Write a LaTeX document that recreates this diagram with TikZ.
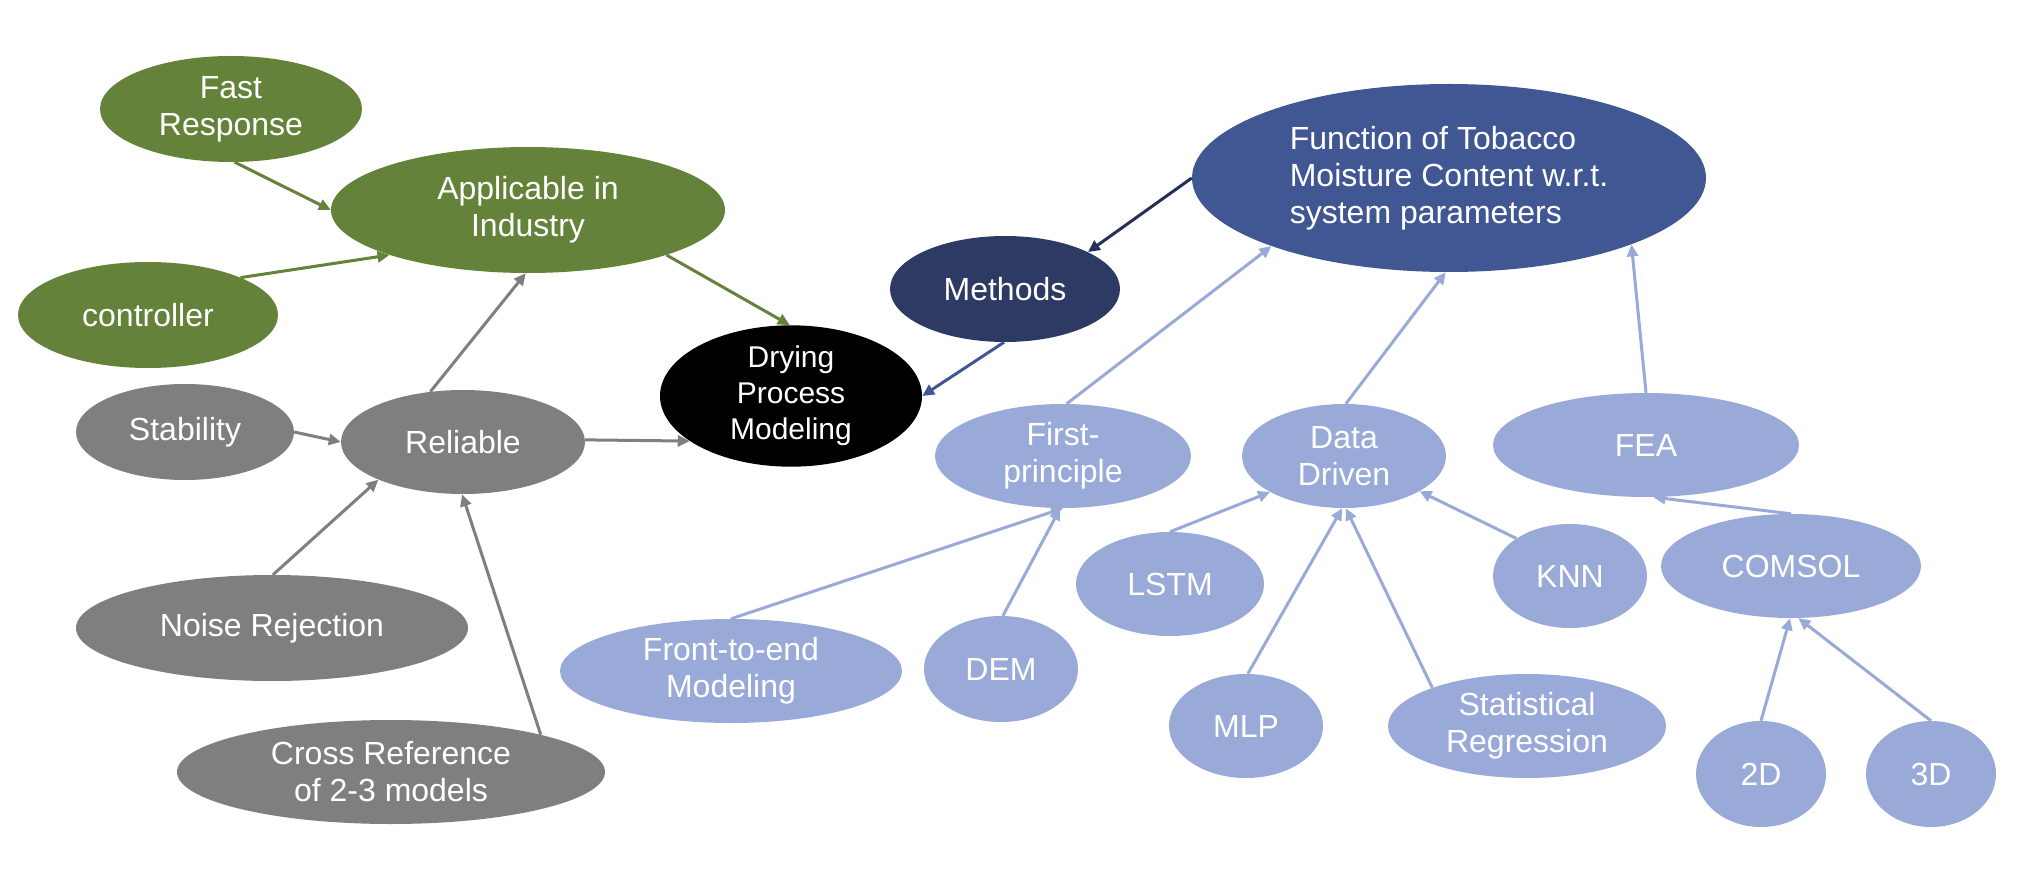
\documentclass[tikz,border=0pt]{standalone}
\usepackage{fontspec}
\setmainfont{Liberation Sans}
\usetikzlibrary{arrows.meta,shapes.geometric}
\definecolor{cgreen}{RGB}{100,130,57}
\definecolor{cgray}{RGB}{127,127,127}
\definecolor{cnavy}{RGB}{45,58,100}
\definecolor{cnavyline}{RGB}{36,48,88}
\definecolor{cblue}{RGB}{64,87,148}
\definecolor{clight}{RGB}{153,170,216}
\begin{document}
\begin{tikzpicture}[x=1pt,y=-1pt,
  bub/.style={ellipse, inner sep=0pt, text=white, align=center, font=\fontsize{32}{37}\selectfont},
  gbub/.style={bub, fill=cgreen},
  graybub/.style={bub, fill=cgray},
  lbub/.style={bub, fill=clight},
  con/.style={line width=3pt, -{Triangle[length=12pt,width=11pt]}},
  gcon/.style={con, draw=cgreen, fill=cgreen},
  graycon/.style={con, draw=cgray, fill=cgray},
  lcon/.style={con, draw=clight, fill=clight},
]
\useasboundingbox (0,0) rectangle (2026,877);
% green
\node[gbub, minimum width=262pt, minimum height=106pt] (fast) at (231,109) {Fast\\Response};
\node[gbub, minimum width=394pt, minimum height=126pt] (app) at (528,210) {Applicable in\\Industry};
\node[gbub, minimum width=260pt, minimum height=106pt] (ctrl) at (148,315) {controller};
% gray
\node[graybub, minimum width=218pt, minimum height=96pt] (stab) at (185,432) {Stability};
\node[graybub, minimum width=244pt, minimum height=104pt] (rel) at (463,442) {Reliable};
\node[graybub, minimum width=392pt, minimum height=106pt] (noise) at (272,628) {Noise Rejection};
\node[graybub, minimum width=428pt, minimum height=104pt] (cross) at (391,772) {Cross Reference\\of 2-3 models};
% center
\node[bub, fill=black, minimum width=262pt, minimum height=118pt, font=\fontsize{30}{36}\selectfont] (dry) at (791,396) {Drying\\Process\\Modeling};
\node[bub, fill=cnavy, minimum width=230pt, minimum height=106pt] (meth) at (1005,289) {Methods};
\node[bub, fill=cblue, minimum width=514pt, minimum height=188pt, align=left] (func) at (1449,178) {Function of Tobacco\\Moisture Content w.r.t.\\system parameters};
% light
\node[lbub, minimum width=256pt, minimum height=104pt] (first) at (1063,456) {First-\\principle};
\node[lbub, minimum width=204pt, minimum height=104pt] (dd) at (1344,456) {Data\\Driven};
\node[lbub, minimum width=306pt, minimum height=104pt] (fea) at (1646,445) {FEA};
\node[lbub, minimum width=188pt, minimum height=104pt] (lstm) at (1170,584) {LSTM};
\node[lbub, minimum width=154pt, minimum height=104pt] (knn) at (1570,576) {KNN};
\node[lbub, minimum width=260pt, minimum height=104pt] (comsol) at (1791,566) {COMSOL};
\node[lbub, minimum width=342pt, minimum height=104pt] (front) at (731,671) {Front-to-end\\Modeling};
\node[lbub, minimum width=154pt, minimum height=106pt] (dem) at (1001,669) {DEM};
\node[lbub, minimum width=154pt, minimum height=104pt] (mlp) at (1246,726) {MLP};
\node[lbub, minimum width=278pt, minimum height=104pt] (stat) at (1527,726) {Statistical\\Regression};
\node[lbub, minimum width=130pt, minimum height=106pt] (d2) at (1761,774) {2D};
\node[lbub, minimum width=130pt, minimum height=106pt] (d3) at (1931,774) {3D};
% green connectors
\draw[gcon] (fast.-86) -- (app.180);
\draw[gcon] (ctrl.22) -- (app.198);
\draw[gcon] (app.-18) -- (dry.91);
% gray connectors
\draw[graycon] (rel.123) -- (app.-92);
\draw[graycon] (stab.0) -- (rel.180);
\draw[graycon] (rel.1) -- (dry.204);
\draw[graycon] (noise.89) -- (rel.204);
\draw[graycon] (cross.14) -- (rel.-91);
% blue connectors
\draw[con, draw=cnavyline, fill=cnavyline] (func.180) -- (meth.24);
\draw[con, draw=cblue, fill=cblue] (meth.-91) -- (dry.0);
% light connectors
\draw[lcon] (first.86) -- (func.201);
\draw[lcon] (dd.88) -- (func.-92);
\draw[lcon] (fea.90) -- (func.-20);
\draw[lcon] (front.90) -- (first.-90);
\draw[lcon] (dem.88) -- (first.-93);
\draw[lcon] (lstm.90) -- (dd.206);
\draw[lcon] (mlp.88) -- (dd.-92);
\draw[lcon] (stat.158) -- (dd.-88);
\draw[lcon] (knn.145) -- (dd.-25);
\draw[lcon] (comsol.90) -- (fea.-82);
\draw[lcon] (d2.90) -- (comsol.-91);
\draw[lcon] (d3.90) -- (comsol.-82);
\end{tikzpicture}
\end{document}
